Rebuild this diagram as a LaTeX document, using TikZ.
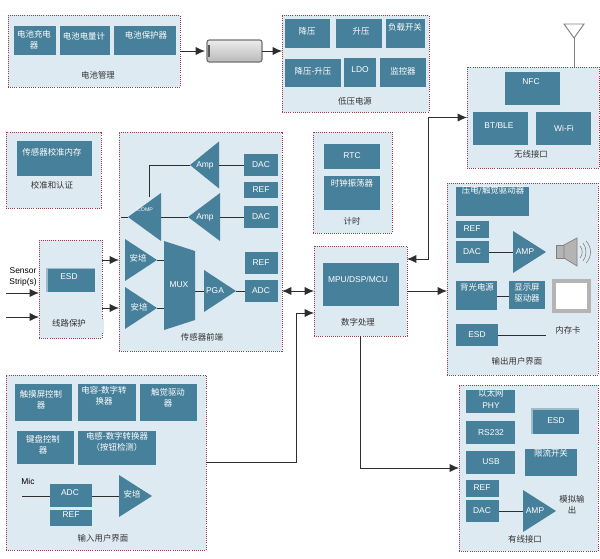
\documentclass[tikz,border=0pt]{standalone}
\usepackage{fontspec}
\setmainfont{Liberation Sans}
\newfontfamily\cjk{Noto Sans CJK SC}
\usetikzlibrary{arrows.meta, fit, shapes.geometric}

\definecolor{panelbg}{HTML}{DEEAF2}
\definecolor{panelline}{HTML}{A03A4A}
\definecolor{blkfill}{HTML}{47809A}
\definecolor{blkpale}{HTML}{9DBCCB}
\definecolor{wirecol}{HTML}{2E2E2E}
\definecolor{graypart}{HTML}{B4B4B4}

\newcommand{\pxu}{0.03cm}
\newcommand{\zh}[1]{{\cjk #1}}
% block: name, corner, corner, text position, text
\newcommand{\blk}[5]{\node[blkbox, fit={#2 #3}] (#1) {}; \node[blktxt] at #4 {#5};}
% panel: name, corner, corner, text position, text
\newcommand{\panel}[5]{\node[panelbox, fit={#2 #3}] (#1) {}; \node[paneltxt] at #4 {\zh{#5}};}
% triangle: name, size options, base centre, text position, text
\newcommand{\ampr}[5]{\node[ampbox, #2, anchor=lower side] (#1) at #3 {}; \node[blktxt] at #4 {#5};}
\newcommand{\ampl}[5]{\node[ampbox, shape border rotate=180, #2, anchor=lower side] (#1) at #3 {}; \node[blktxt] at #4 {#5};}

\tikzset{
  panelbox/.style={fill=panelbg, draw=panelline, densely dotted, line width=0.8pt, inner sep=0pt, outer sep=0pt},
  paneltxt/.style={text=black!80, font=\fontsize{7.2}{9.5}\selectfont, align=center, inner sep=0pt},
  blkbox/.style={fill=blkfill, inner sep=0pt, outer sep=0pt},
  blktxt/.style={text=white, font=\fontsize{7.2}{9.5}\selectfont, align=center, inner sep=0pt},
  ampbox/.style={isosceles triangle, isosceles triangle stretches, fill=blkfill, inner sep=0pt, outer sep=0pt},
  wire/.style={draw=wirecol, line width=0.8pt},
  arrow/.style={wire, -{Latex[length=8pt, width=7pt]}},
  twoway/.style={wire, {Latex[length=8pt, width=7pt]}-{Latex[length=8pt, width=7pt]}},
  graywire/.style={draw=gray, line width=0.8pt}
}

\begin{document}
\begin{tikzpicture}[x=\pxu, y=-\pxu]
\useasboundingbox (0,0) rectangle (600,558);

% Battery management
\panel{batmgr}{(8,15)}{(180,87)}{(98,75)}{电池管理}
\blk{charger}{(14,26)}{(56,55)}{(34,40)}{\zh{电池充电}\\\zh{器}}
\blk{gauge}{(60,26)}{(110,55)}{(84,36)}{\zh{电池电量计}}
\blk{protect}{(114,26)}{(176,55)}{(146,35)}{\zh{电池保护器}}
\node[fit={(207,40)(262,62)}, inner sep=0pt, outer sep=0pt, draw=gray!90!black, line width=1pt, rounded corners=2pt, top color=gray!15, bottom color=gray!55] (batt) {};
\fill[gray!70!black] (208,45) rectangle (210,57);

% Low voltage power
\panel{lvpower}{(282,15)}{(429,112)}{(355,101)}{低压电源}
\blk{buck}{(285,19)}{(330,48)}{(307,31)}{\zh{降压}}
\blk{boost}{(336,19)}{(382,48)}{(361,31)}{\zh{升压}}
\blk{loadsw}{(386,19)}{(425,48)}{(405,27)}{\zh{负载开关}}
\blk{buckboost}{(285,59)}{(341,87)}{(313,71)}{\zh{降压-升压}}
\blk{ldo}{(344,58)}{(376,87)}{(360,70)}{LDO}
\blk{monitor}{(380,58)}{(426,87)}{(403,71)}{\zh{监控器}}

% Calibration
\panel{calib}{(6,132)}{(101,208)}{(52,185)}{校准和认证}
\blk{calmem}{(17,141)}{(92,176)}{(52,152)}{\zh{传感器校准内存}}

% Sensor front end
\panel{front}{(119,132)}{(282,351)}{(202,337)}{传感器前端}
\ampl{ampup}{minimum height=29*\pxu, minimum width=47*\pxu}{(219,165)}{(205,165)}{Amp}
\ampl{amplo}{minimum height=32*\pxu, minimum width=48*\pxu}{(220,217)}{(205,217)}{Amp}
\ampl{comp}{minimum height=33*\pxu, minimum width=48*\pxu}{(161,217)}{(145,210)}{\fontsize{4.5}{5}\selectfont COMP}
\blk{dacup}{(244,154)}{(278,176)}{(261,165)}{DAC}
\blk{refup}{(244,182)}{(278,198)}{(261,190)}{REF}
\blk{daclo}{(244,206)}{(278,228)}{(261,217)}{DAC}
\ampr{ampa}{minimum height=32*\pxu, minimum width=42*\pxu}{(125,260)}{(138,258)}{\zh{安培}}
\ampr{ampb}{minimum height=32*\pxu, minimum width=42*\pxu}{(125,308)}{(139,307)}{\zh{安培}}
\fill[blkfill] (164,241) -- (195,251) -- (195,320) -- (164,330) -- cycle;
\node[blktxt, inner sep=0pt] (mux) at (179,285) {MUX};
\ampr{pga}{minimum height=32*\pxu, minimum width=42*\pxu}{(204,291)}{(215,291)}{PGA}
\blk{adc}{(245,280)}{(278,302)}{(261,291)}{ADC}
\blk{refadc}{(245,252)}{(278,274)}{(261,263)}{REF}
\coordinate (muxa) at (164,260);
\coordinate (muxb) at (164,308);
\coordinate (muxc) at (195,291);
\coordinate (compin) at (121,217);
\coordinate (comptop) at (149,197);
\draw[wire] (comp.lower side) -- (amplo.apex);
\draw[wire] (comptop) |- (ampup.apex);
\draw[wire] (compin) -- (comp.apex);
\draw[wire] (ampup.lower side) -- (dacup.west);
\draw[wire] (amplo.lower side) -- (daclo.west);
\draw[wire] (ampa.apex) -- (muxa);
\draw[wire] (ampb.apex) -- (muxb);
\draw[wire] (muxc) -- (pga.lower side);
\draw[wire] (pga.apex) -- (adc.west);

% Line protection
\panel{lineprot}{(39,240)}{(102,338)}{(69,323)}{线路保护}
\fill[panelbg] (101,319) rectangle (104,333);
\fill[blkpale] (46,268) rectangle (95,292);
\blk{esdline}{(48,269)}{(95,292)}{(69,277)}{ESD}
\node[paneltxt, text=black] (sensor) at (23,277) {Sensor\\Strip(s)};
\coordinate (stripa) at (6,293);
\coordinate (stripb) at (6,317);
\draw[arrow] (stripa) -- (lineprot.west |- stripa);
\draw[arrow] (stripb) -- (lineprot.west |- stripb);
\draw[arrow] (lineprot.east |- ampa.lower side) -- (front.west |- ampa.lower side);
\draw[arrow] (lineprot.east |- ampb.lower side) -- (front.west |- ampb.lower side);

% Timing
\panel{timing}{(313,132)}{(392,233)}{(352,221)}{计时}
\blk{rtc}{(324,144)}{(380,169)}{(352,156)}{RTC}
\blk{osc}{(324,176)}{(380,210)}{(352,183)}{\zh{时钟振荡器}}

% Digital processing
\panel{digital}{(314,246)}{(407,336)}{(358,322)}{数字处理}
\blk{mpu}{(323,263)}{(399,306)}{(358,279)}{MPU/DSP/MCU}

% Wireless
\panel{wireless}{(467,67)}{(599,168)}{(531,154)}{无线接口}
\blk{nfc}{(505,72)}{(560,105)}{(531,82)}{NFC}
\blk{btble}{(473,112)}{(528,145)}{(499,125)}{BT/BLE}
\blk{wifi}{(536,112)}{(591,145)}{(564,128)}{Wi-Fi}
\coordinate (anttip) at (574,38);
\draw[graywire] (564,24) -- (584,24) -- (anttip) -- cycle;
\draw[graywire] (anttip) -- (wireless.north -| anttip);

% Output user interface
\panel{outui}{(447,183)}{(598,375)}{(517,361)}{输出用户界面}
\blk{haptic}{(456,187)}{(529,216)}{(493,191)}{\zh{压电/触觉驱动器}}
\blk{refout}{(456,221)}{(489,238)}{(472,229)}{REF}
\blk{dacout}{(456,241)}{(489,263)}{(472,252)}{DAC}
\ampr{ampout}{minimum height=33*\pxu, minimum width=42*\pxu}{(513,252)}{(525,252)}{AMP}
\draw[wire] (dacout.east) -- (ampout.lower side);
\blk{backlight}{(456,281)}{(497,310)}{(477,287)}{\zh{背光电源}}
\blk{lcddrv}{(509,281)}{(545,309)}{(527,293)}{\zh{显示屏}\\\zh{驱动器}}
\coordinate (lcdjoin) at (503,296);
\draw[wire] (backlight.east |- lcdjoin) -- (lcddrv.west |- lcdjoin);
\blk{esdout}{(456,324)}{(498,346)}{(477,335)}{ESD}
\node[paneltxt] (memcard) at (568,330) {\zh{内存卡}};
\coordinate (cardend) at (546,335);
\draw[wire] (esdout.east) -- (cardend);
% Speaker and screen
\draw[fill=graypart, draw=gray, line width=0.6pt] (556,245) rectangle (564,258);
\draw[fill=graypart, draw=gray, line width=0.6pt] (564,245) -- (577,238) -- (577,266) -- (564,258) -- cycle;
\draw[gray, line width=0.5pt] (580,246) .. controls (583,249) and (583,255) .. (580,258);
\draw[gray, line width=0.5pt] (583,243) .. controls (587,248) and (587,256) .. (583,261);
\draw[gray, line width=0.5pt] (586,241) .. controls (592,247) and (592,257) .. (586,263);
\draw[fill=white, draw=graypart, line width=3pt] (554,281) rectangle (589,311);

% Wired interface
\panel{wired}{(459,385)}{(598,551)}{(525,539)}{有线接口}
\blk{phy}{(466,390)}{(515,413)}{(491,399)}{\zh{以太网}\\PHY}
\blk{rsport}{(466,421)}{(515,444)}{(491,433)}{RS232}
\blk{usb}{(466,451)}{(515,474)}{(491,462)}{USB}
\fill[blkpale] (531,408) rectangle (579,434);
\blk{esdwired}{(533,410)}{(579,434)}{(556,421)}{ESD}
\blk{limitsw}{(525,449)}{(577,476)}{(551,453)}{\zh{限流开关}}
\blk{refwired}{(466,480)}{(499,497)}{(482,488)}{REF}
\blk{dacwired}{(466,500)}{(499,522)}{(482,511)}{DAC}
\ampr{ampwired}{minimum height=33*\pxu, minimum width=42*\pxu}{(523,511)}{(535,511)}{AMP}
\draw[wire] (dacwired.east) -- (ampwired.lower side);
\node[paneltxt] (analog) at (572,505) {\zh{模拟输}\\\zh{出}};

% Input user interface
\panel{inui}{(6,375)}{(206,550)}{(103,538)}{输入用户界面}
\blk{touch}{(15,384)}{(72,421)}{(41,400)}{\zh{触摸屏控制}\\\zh{器}}
\blk{capdig}{(78,384)}{(136,421)}{(104,396)}{\zh{电容-数字转}\\\zh{换器}}
\blk{hapdrv}{(140,384)}{(197,421)}{(168,398)}{\zh{触觉驱动}\\\zh{器}}
\blk{keypad}{(17,431)}{(74,464)}{(43,445)}{\zh{键盘控制}\\\zh{器}}
\blk{inddig}{(78,431)}{(156,465)}{(117,442)}{\zh{电感-数字转换器}\\\zh{（按钮检测）}}
\node[paneltxt, text=black] (mic) at (28,481) {Mic};
\blk{adcmic}{(50,484)}{(92,507)}{(70,493)}{ADC}
\blk{refmic}{(50,510)}{(92,526)}{(71,515)}{REF}
\ampr{ampmic}{minimum height=33*\pxu, minimum width=42*\pxu}{(119,496)}{(132,494)}{\zh{安培}}
\coordinate (micin) at (22,496);
\draw[wire] (micin) -- (adcmic.west |- micin);
\draw[wire] (adcmic.east |- ampmic.lower side) -- (ampmic.lower side);

% Connectors between panels
\coordinate (injog) at (296,313);
\coordinate (wjog) at (428,259);
\draw[arrow, shorten >=2*\pxu] (batmgr.east) -- (batt.west);
\draw[arrow] (batt.east) -- (lvpower.west |- batt.east);
\draw[twoway] (front.east |- digital.west) -- (digital.west);
\draw[arrow] (inui.east) -| (injog) -- (digital.west |- injog);
\draw[arrow] (digital.east) -- (outui.west |- digital.east);
\draw[arrow] (digital.south) |- (wired.west);
\draw[twoway] (digital.east |- wjog) -- (wjog) |- (wireless.west);
\end{tikzpicture}
\end{document}
